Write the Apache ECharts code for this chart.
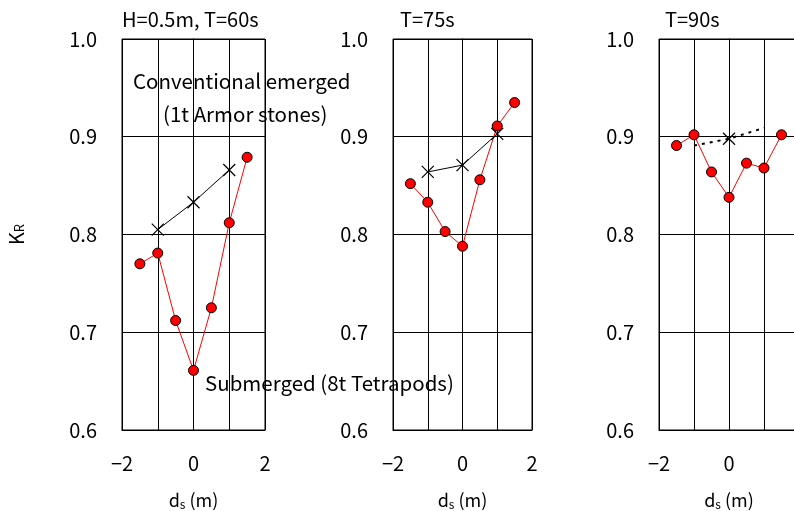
<!DOCTYPE html>
<html>
<head>
<meta charset="utf-8">
<script src="https://cdn.jsdelivr.net/npm/echarts@6/dist/echarts.min.js"></script>
<style>
html, body { margin: 0; padding: 0; background: #fff; }
#chart { width: 794px; height: 511px; }
</style>
</head>
<body>
<div id="chart"></div>
<script>
// d_s positions (m)
const dsSubmerged = [-1.5, -1, -0.5, 0, 0.5, 1, 1.5]
const dsEmerged = [-1, 0, 1]
const panelTitles = ['H=0.5m, T=60s', 'T=75s', 'T=90s']
// K_R, submerged breakwater (8t Tetrapods)
const krSubmerged60 = [0.770, 0.781, 0.712, 0.661, 0.725, 0.812, 0.879]
const krSubmerged75 = [0.852, 0.833, 0.803, 0.788, 0.856, 0.911, 0.935]
const krSubmerged90 = [0.891, 0.902, 0.864, 0.838, 0.873, 0.868, 0.902]
// K_R, conventional emerged (1t Armor stones)
const krEmerged60 = [0.805, 0.833, 0.866]
const krEmerged75 = [0.864, 0.871, 0.903]
const krEmerged90 = [0.891, 0.898, 0.909]
const xTickLabels = [-2, 0, 2]
const yMin = 0.6
const yMax = 1.0

const FONT = '"Noto Sans CJK JP", "Noto Sans", sans-serif'
const chart = echarts.init(document.getElementById('chart'))

const grids = [
  { left: 122, top: 39, width: 143, height: 391 },
  { left: 393, top: 39, width: 139, height: 391 },
  { left: 659, top: 39, width: 140, height: 391 }
]
const titleLeft = [122, 400, 665]
const submerged = [krSubmerged60, krSubmerged75, krSubmerged90]
const emerged = [krEmerged60, krEmerged75, krEmerged90]

const crossPath = 'path://M0,0L10,10M10,0L0,10'

const option = {
  backgroundColor: '#fff',
  animation: false,
  textStyle: { fontFamily: FONT, color: '#000' },
  title: panelTitles.map((t, i) => ({
    text: t,
    left: titleLeft[i],
    top: 9,
    padding: 0,
    textStyle: { fontFamily: FONT, fontSize: 20, fontWeight: 'normal', color: '#000' }
  })),
  grid: grids.map(g => Object.assign({
    show: true, borderColor: '#000', borderWidth: 1, containLabel: false, outerBoundsMode: 'none'
  }, g)),
  xAxis: grids.map((g, i) => ({
    type: 'value',
    gridIndex: i,
    min: -2,
    max: 2,
    interval: 1,
    name: '{d|d}{s|s}{d| (m)}',
    nameLocation: 'middle',
    nameGap: 60,
    nameTextStyle: {
      rich: {
        d: { fontFamily: FONT, fontSize: 18, color: '#000' },
        s: { fontFamily: FONT, fontSize: 12, color: '#000', verticalAlign: 'bottom', padding: [8, 0, 0, 0] }
      }
    },
    axisLine: { show: true, lineStyle: { color: '#000', width: 1 } },
    axisTick: { show: false },
    splitLine: { show: true, lineStyle: { color: '#000', width: 1 } },
    axisLabel: {
      margin: 23,
      fontSize: 20,
      color: '#000',
      fontFamily: FONT,
      formatter: v => xTickLabels.includes(v) ? String(v).replace('-', '\u2212') : ''
    }
  })),
  yAxis: grids.map((g, i) => ({
    type: 'value',
    gridIndex: i,
    min: yMin,
    max: yMax,
    interval: 0.1,
    name: i === 0 ? '{k|K}{r|R}' : '',
    nameLocation: 'middle',
    nameGap: 96,
    nameRotate: 90,
    nameTextStyle: {
      rich: {
        k: { fontFamily: FONT, fontSize: 20, color: '#000' },
        r: { fontFamily: FONT, fontSize: 13, color: '#000', padding: [7, 0, 0, 0] }
      }
    },
    axisLine: { show: true, lineStyle: { color: '#000', width: 1 } },
    axisTick: { show: false },
    splitLine: { show: true, lineStyle: { color: '#000', width: 1 } },
    axisLabel: {
      margin: 25,
      fontSize: 20,
      color: '#000',
      fontFamily: FONT,
      formatter: v => v.toFixed(1)
    }
  })),
  series: [],
  graphic: [
    {
      type: 'text', x: 133, y: 81,
      style: { text: 'Conventional emerged', font: '20.5px ' + FONT, fill: '#000', verticalAlign: 'middle' }
    },
    {
      type: 'text', x: 163, y: 114,
      style: { text: '(1t Armor stones)', font: '20.5px ' + FONT, fill: '#000', verticalAlign: 'middle' }
    },
    {
      type: 'text', x: 205, y: 383,
      style: { text: 'Submerged (8t Tetrapods)', font: '20.5px ' + FONT, fill: '#000', verticalAlign: 'middle' }
    }
  ]
}

for (let i = 0; i < 3; i++) {
  option.series.push({
    type: 'line',
    xAxisIndex: i,
    yAxisIndex: i,
    data: dsSubmerged.map((x, j) => [x, submerged[i][j]]),
    symbol: 'circle',
    symbolSize: 10,
    lineStyle: { color: '#ff0000', width: 1 },
    itemStyle: { color: '#ff0000', borderColor: '#000', borderWidth: 1 },
    z: 3
  })
  const dotted = i === 2
  option.series.push({
    type: 'line',
    xAxisIndex: i,
    yAxisIndex: i,
    data: dsEmerged.map((x, j) => {
      const p = { value: [x, emerged[i][j]] }
      // only the middle cross is visible in the T=90s panel
      if (dotted && j !== 1) p.symbol = 'none'
      return p
    }),
    symbol: crossPath,
    symbolSize: 12,
    lineStyle: { color: '#000', width: dotted ? 2 : 1, type: dotted ? [3, 5] : 'solid' },
    itemStyle: { color: 'none', borderColor: '#000', borderWidth: 1.2 },
    z: 4
  })
}

chart.setOption(option)
</script>
</body>
</html>
